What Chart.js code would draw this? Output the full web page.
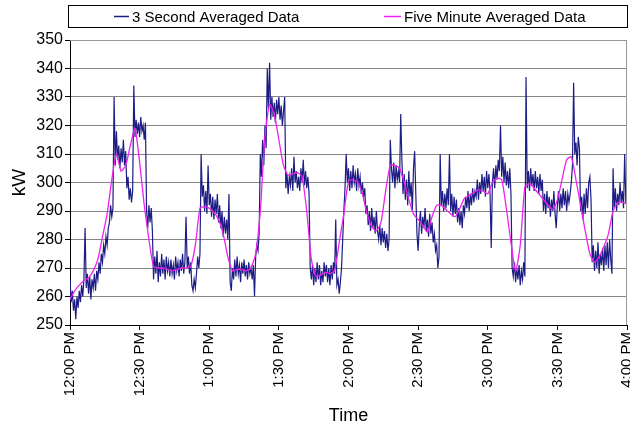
<!DOCTYPE html>
<html>
<head>
<meta charset="utf-8">
<script src="https://cdn.jsdelivr.net/npm/chart.js@4.4.0/dist/chart.umd.min.js"></script>
<style>
  html, body { margin: 0; padding: 0; background: #fff; }
  #wrap { width: 630px; height: 427px; }
</style>
</head>
<body>
<div id="wrap"><canvas id="kwChart" width="630" height="427"></canvas></div>
<script>
// ==========================================
// DATA
// ==========================================

// x tick labels, one every 30 minutes from 12:00 PM
const timeLabels = ["12:00 PM", "12:30 PM", "1:00 PM", "1:30 PM", "2:00 PM",
                    "2:30 PM", "3:00 PM", "3:30 PM", "4:00 PM"];

// 3 second averaged data, sampled every half minute (10 values = 5 minutes per row)
const secondStep = 0.5;
const threeSecondKw = [
  266, 258, 262, 255, 259, 252, 260, 256, 262, 258,
  264, 260, 266, 284, 263, 268, 261, 267, 259, 266,
  263, 268, 262, 269, 266, 272, 268, 275, 272, 278,
  275, 281, 278, 284, 286, 292, 288, 291, 330, 306,
  318, 308, 313, 305, 312, 307, 315, 306, 311, 298,
  302, 294, 298, 293, 297, 334, 316, 322, 317, 321,
  316, 323, 318, 320, 315, 321, 290, 284, 292, 286,
  291, 283, 266, 274, 268, 276, 265, 272, 267, 275,
  268, 273, 266, 274, 269, 272, 267, 273, 268, 271,
  266, 274, 269, 272, 267, 273, 269, 275, 268, 272,
  288, 270, 274, 268, 272, 264, 262, 266, 263, 268,
  274, 270, 275, 310, 295, 299, 290, 297, 289, 306,
  292, 296, 288, 295, 287, 294, 289, 296, 286, 292,
  284, 290, 281, 288, 282, 287, 280, 296, 265, 262,
  270, 266, 273, 267, 274, 268, 271, 265, 272, 268,
  273, 267, 271, 266, 272, 268, 270, 266, 271, 260,
  274, 278, 276, 282, 310, 302, 315, 306, 320, 312,
  340, 326, 342, 322, 330, 323, 328, 321, 329, 324,
  330, 322, 327, 320, 325, 330, 298, 303, 296, 302,
  299, 305, 297, 309, 300, 304, 298, 302, 297, 305,
  300, 308, 299, 304, 298, 302, 296, 270, 266, 271,
  264, 270, 265, 272, 266, 271, 264, 269, 265, 272,
  267, 271, 265, 270, 264, 271, 266, 272, 268, 287,
  264, 266, 261, 265, 270, 280, 290, 298, 310, 300,
  305, 297, 304, 298, 306, 300, 303, 297, 305, 299,
  302, 296, 300, 295, 298, 289, 292, 285, 290, 283,
  291, 284, 288, 282, 290, 283, 280, 285, 278, 284,
  279, 283, 277, 282, 276, 280, 315, 305, 300, 307,
  298, 306, 301, 304, 300, 324, 308, 296, 303, 294,
  301, 292, 304, 295, 300, 290, 305, 311, 296, 282,
  276, 285, 290, 282, 288, 284, 291, 283, 287, 281,
  289, 282, 286, 279, 282, 276, 278, 270, 274, 310,
  292, 297, 290, 296, 291, 298, 292, 310, 290, 296,
  288, 295, 289, 294, 286, 291, 285, 290, 284, 292,
  289, 295, 291, 297, 290, 296, 292, 298, 293, 297,
  295, 301, 294, 300, 296, 303, 297, 302, 295, 304,
  298, 303, 296, 277, 300, 305, 298, 306, 301, 308,
  304, 320, 302, 309, 300, 307, 299, 304, 298, 305,
  296, 270, 267, 272, 265, 270, 266, 271, 264, 269,
  266, 272, 267, 337, 298, 304, 297, 305, 299, 303,
  297, 304, 298, 302, 296, 303, 297, 301, 290, 296,
  289, 297, 291, 295, 288, 294, 290, 297, 289, 284,
  292, 297, 290, 296, 291, 298, 292, 297, 290, 296,
  293, 296, 300, 306, 335, 310, 314, 306, 316, 312,
  290, 295, 287, 296, 289, 298, 291, 300, 302, 294,
  272, 278, 269, 276, 270, 279, 268, 275, 271, 277,
  269, 278, 271, 279, 270, 280, 273, 268, 305, 291,
  298, 290, 296, 292, 300, 293, 297, 291, 310, 293,
  292
];

// five minute averaged data, read every 2 minutes (10 values = 20 minutes per row)
const fiveMinStep = 2;
const fiveMinuteKw = [
  259, 262, 264, 265.5, 266.5, 269, 273, 281, 289, 301,
  310, 304, 306, 313, 319, 307, 292, 280, 270.5, 270,
  270, 269.5, 269, 269.5, 270, 270, 270.5, 278, 291, 291.5,
  291, 289.5, 287, 282, 274, 269, 269.5, 269.5, 269, 270,
  275, 290, 316, 327.5, 324, 315, 306, 302.5, 303, 303.5,
  302, 290, 273, 267, 267.5, 268.5, 268, 269, 279, 289,
  300.5, 301, 300, 296, 289, 284.5, 283, 286, 297, 306,
  306, 305, 300, 294, 289, 287, 285, 282.6, 288, 292,
  292, 290.5, 289, 288, 291, 294.5, 295.5, 296.5, 297.5, 297,
  296, 300, 301.5, 301, 291, 279, 269, 278, 298.5, 299.5,
  298, 296, 294, 292, 290.5, 294, 301, 308, 309, 301,
  292, 283, 275, 272, 274, 277.5, 282, 290, 293, 293,
  292.5
];

// ==========================================
// CHART
// ==========================================

const navyPoints = threeSecondKw.map((v, i) => ({ x: i * secondStep, y: v }));
const pinkPoints = fiveMinuteKw.map((v, i) => ({ x: i * fiveMinStep, y: v }));

// legend in a box above the plot, and the grey frame round the plot area
const framePlugin = {
  id: 'frame',
  afterDraw(chart) {
    const ctx = chart.ctx;
    const a = chart.chartArea;
    const sets = chart.data.datasets;
    ctx.save();

    // legend box
    ctx.strokeStyle = '#000';
    ctx.lineWidth = 1;
    ctx.strokeRect(68.5, 5.5, 559, 22);
    ctx.font = '15px "Liberation Sans", Arial, sans-serif';
    ctx.textBaseline = 'middle';
    ctx.fillStyle = '#000';
    const items = [{ x: 114, w: 15 }, { x: 384, w: 17 }];
    items.forEach((it, i) => {
      ctx.strokeStyle = sets[i].borderColor;
      ctx.lineWidth = 1.5;
      ctx.beginPath();
      ctx.moveTo(it.x, 16.5);
      ctx.lineTo(it.x + it.w, 16.5);
      ctx.stroke();
      ctx.fillText(sets[i].label, it.x + it.w + 3, 17.5);
    });

    // top and right sides of the plot frame
    ctx.strokeStyle = '#999';
    ctx.lineWidth = 1;
    ctx.beginPath();
    ctx.moveTo(a.left, a.top + 0.5);
    ctx.lineTo(a.right - 0.5, a.top + 0.5);
    ctx.lineTo(a.right - 0.5, a.bottom);
    ctx.stroke();
    ctx.restore();
  }
};

new Chart(document.getElementById('kwChart'), {
  type: 'line',
  data: {
    datasets: [
      {
        label: '3 Second Averaged Data',
        data: navyPoints,
        borderColor: '#1c1c84',
        backgroundColor: '#1c1c84',
        borderWidth: 1.2,
        pointRadius: 0,
        tension: 0,
        order: 2
      },
      {
        label: 'Five Minute Averaged Data',
        data: pinkPoints,
        borderColor: '#f020f0',
        backgroundColor: '#f020f0',
        borderWidth: 1.3,
        pointRadius: 0,
        tension: 0.2,
        order: 1
      }
    ]
  },
  options: {
    responsive: false,
    animation: false,
    layout: { padding: { left: 0, right: 3, top: 40, bottom: 0 } },
    plugins: {
      tooltip: { enabled: false },
      legend: { display: false }
    },
    scales: {
      x: {
        type: 'linear',
        min: 0,
        max: 240,
        afterBuildTicks: (scale) => {
          scale.ticks = timeLabels.map((t, i) => ({ value: i * 30 }));
        },
        afterFit: (scale) => {
          scale.height = 102;
          scale.paddingRight = 0;
          scale.paddingLeft = 0;
        },
        ticks: {
          color: '#000',
          font: { family: 'Liberation Sans', size: 15 },
          minRotation: 90,
          maxRotation: 90,
          padding: 2,
          callback: (value) => timeLabels[value / 30]
        },
        grid: { drawOnChartArea: false, drawTicks: true, tickLength: 5, color: '#000' },
        border: { display: true, color: '#000' },
        title: {
          display: true,
          text: 'Time',
          color: '#000',
          font: { family: 'Liberation Sans', size: 18 },
          padding: { top: 0, bottom: 0 }
        }
      },
      y: {
        min: 250,
        max: 350,
        afterFit: (scale) => { scale.width = 70; },
        ticks: {
          stepSize: 10,
          color: '#000',
          font: { family: 'Liberation Sans', size: 16 },
          padding: 2
        },
        grid: { color: '#858585', tickLength: 5, tickColor: '#000' },
        border: { display: true, color: '#000' },
        title: {
          display: true,
          text: 'kW',
          color: '#000',
          font: { family: 'Liberation Sans', size: 19 },
          padding: { top: 8, bottom: 0 }
        }
      }
    }
  },
  plugins: [framePlugin]
});
</script>
</body>
</html>
